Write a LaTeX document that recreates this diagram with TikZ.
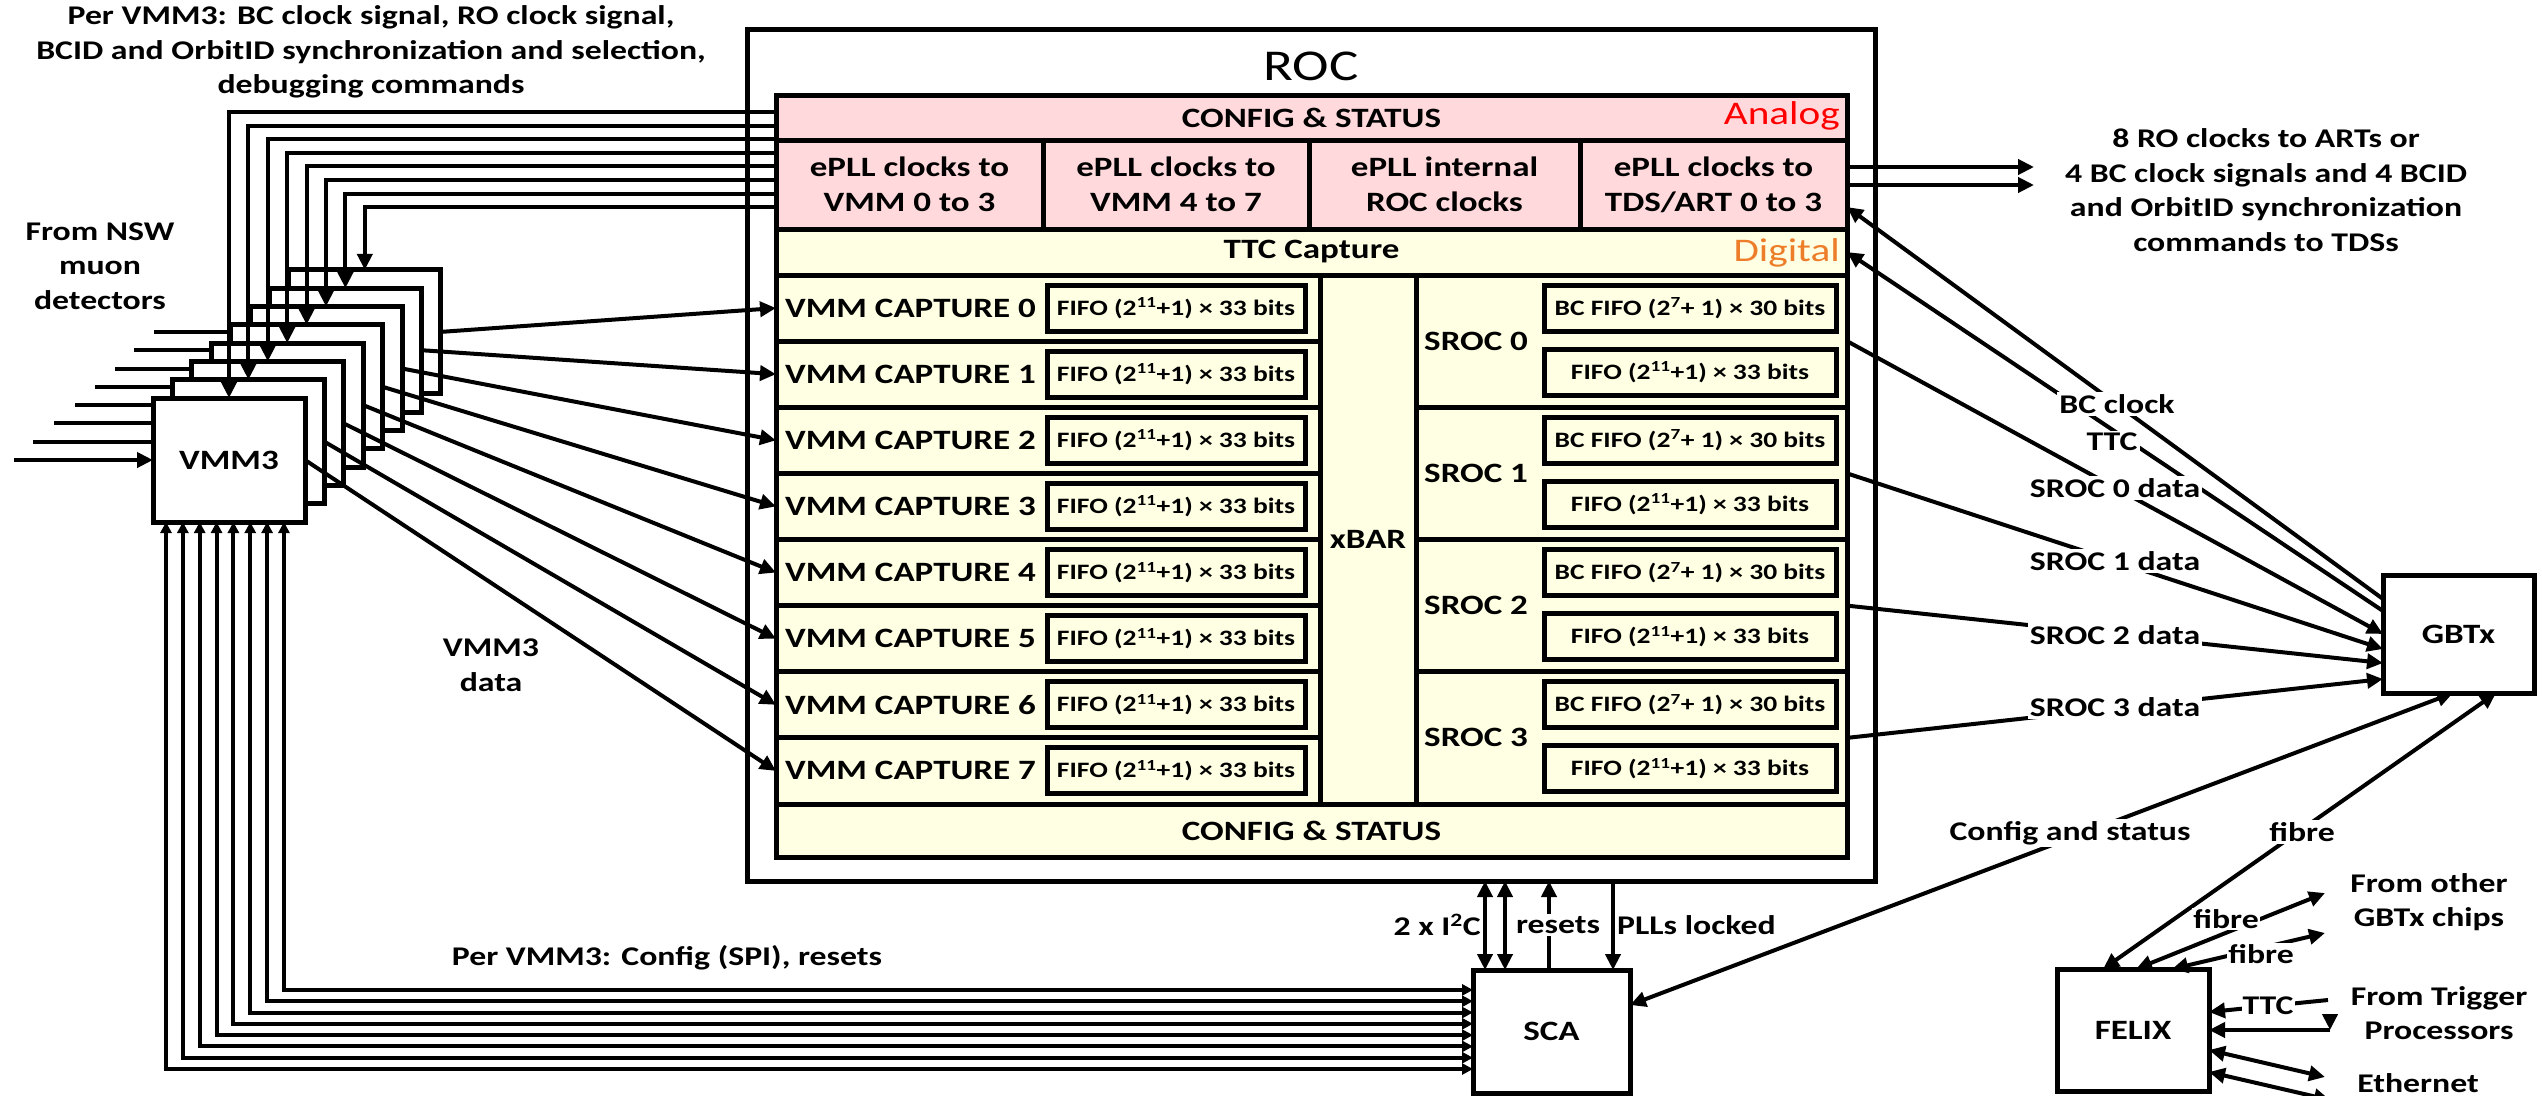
\documentclass[tikz,border=0pt]{standalone}
\usepackage{fontspec}
\setmainfont{Carlito}[FakeStretch=1.25]
\usetikzlibrary{arrows.meta,calc}
\pgfdeclarelayer{bg}
\pgfsetlayers{bg,main}
\definecolor{pinkc}{RGB}{255,217,220}
\definecolor{yelc}{RGB}{255,255,228}
\definecolor{anared}{RGB}{255,0,0}
\definecolor{digor}{RGB}{237,125,40}
\newcommand\fsOut{\fontsize{27}{34.5}\selectfont\bfseries}
\newcommand\fsIn{\fontsize{28}{35}\selectfont\bfseries}
\newcommand\fsFifo{\fontsize{22}{26}\selectfont\bfseries}
\newcommand\fsRoc{\fontsize{44}{50}\selectfont}
\newcommand\fsTag{\fontsize{33}{38}\selectfont}
\tikzset{
  Tb/.tip={Triangle[length=16pt,width=15pt]},
  Ts/.tip={Triangle[length=11pt,width=11pt]},
  blk/.style={draw,line width=5pt,anchor=north west,inner sep=0pt,outer sep=0pt},
  ln/.style={line width=4pt},
  arr/.style={ln,-Tb},
  arrb/.style={ln,Tb-Tb},
  lab/.style={fill=white,inner sep=2pt,font=\fsOut},
  otxt/.style={inner sep=0pt,font=\fsOut,align=center},
  itxt/.style={inner sep=0pt,font=\fsIn,align=center},
  ftxt/.style={inner sep=0pt,font=\fsFifo}
}
\begin{document}
\begin{tikzpicture}[x=1pt,y=-1pt]
\useasboundingbox (0,0) rectangle (2542,1095);

% ---------- ROC ----------
\node[blk,minimum width=1128pt,minimum height=852pt] (roc) at (747,29) {};
\node[font=\fsRoc,inner sep=0pt] (roct) at (1311,66) {ROC};
\node[blk,fill=pinkc,minimum width=1071pt,minimum height=45pt] (cfgA) at (776,95) {};
\node[itxt] (cfgAt) at (cfgA) {CONFIG \& STATUS};
\node[font=\fsTag,text=anared,anchor=east,inner sep=0pt] (analog) at (1840,116) {Analog};
\foreach \n/\x/\w/\t in {0/776/267/{ePLL clocks to\\VMM 0 to 3},1/1043/266/{ePLL clocks to\\VMM 4 to 7},2/1309/271/{ePLL internal\\ROC clocks},3/1580/267/{ePLL clocks to\\TDS/ART 0 to 3}}{
  \node[blk,fill=pinkc,minimum width=\w pt,minimum height=89pt] (epll\n) at (\x,140) {};
  \node[itxt] (epllt\n) at (epll\n) {\t};
}
\node[blk,fill=yelc,minimum width=1071pt,minimum height=46pt] (ttc) at (776,229) {};
\node[itxt] (ttct) at (ttc) {TTC Capture};
\node[font=\fsTag,text=digor,anchor=east,inner sep=0pt] (digital) at (1840,253) {Digital};

\foreach \r in {0,...,7}{
  \pgfmathsetmacro\yy{275+66.125*\r}
  \node[blk,fill=yelc,minimum width=544pt,minimum height=66.125pt] (cap\r) at (776,\yy) {};
  \node[itxt,anchor=west] (capt\r) at (785,\yy+33) {VMM CAPTURE \r};
  \node[blk,minimum width=258pt,minimum height=46pt] (capf\r) at (1047,\yy+10) {};
  \node[ftxt] (capft\r) at (capf\r) {FIFO (2\textsuperscript{11}+1) × 33 bits};
}
\node[blk,fill=yelc,minimum width=96pt,minimum height=529pt] (xbar) at (1320,275) {};
\node[itxt] (xbart) at (xbar) {xBAR};
\foreach \j in {0,...,3}{
  \pgfmathsetmacro\yy{275+132.25*\j}
  \node[blk,fill=yelc,minimum width=431pt,minimum height=132.25pt] (sroc\j) at (1416,\yy) {};
  \node[itxt,anchor=west] (sroct\j) at (1424,\yy+66) {SROC \j};
  \node[blk,minimum width=292pt,minimum height=46pt] (bcf\j) at (1544,\yy+10) {};
  \node[ftxt] (bcft\j) at (bcf\j) {BC FIFO (2\textsuperscript{7}+ 1) × 30 bits};
  \node[blk,minimum width=292pt,minimum height=46pt] (srf\j) at (1544,\yy+74) {};
  \node[ftxt] (srft\j) at (srf\j) {FIFO (2\textsuperscript{11}+1) × 33 bits};
}
\node[blk,fill=yelc,minimum width=1071pt,minimum height=53pt] (cfgB) at (776,804) {};
\node[itxt] (cfgBt) at (cfgB) {CONFIG \& STATUS};

% ---------- VMM3 stack ----------
\foreach \k in {7,6,...,0}{
  \pgfmathsetmacro\xx{153+19.4*\k}
  \pgfmathsetmacro\yy{398-18.3*\k}
  \node[blk,fill=white,minimum width=152pt,minimum height=124pt] (vmm\k) at (\xx,\yy) {};
}
\node[itxt] (vmmt) at (vmm0) {VMM3};
\begin{pgfonlayer}{bg}
\foreach \i/\xs in {0/154,1/134,2/115,3/95,4/75,5/54,6/33}{
  \pgfmathtruncatemacro\b{7-\i}
  \draw[ln] (vmm\b.west -| \xs,0) -- (vmm\b.west);
}
\end{pgfonlayer}
\draw[arr] (vmm0.west -| 14,0) -- (vmm0.west);

% clocks/commands from ROC to VMM3s
\foreach \k in {0,...,7}{
  \pgfmathsetmacro\yy{112+13.6*\k}
  \draw[arr] (cfgA.west |- 0,\yy) -| (vmm\k.north);
}
% VMM3 data
\foreach \k in {0,...,7}{
  \pgfmathtruncatemacro\c{7-\k}
  \draw[arr] (vmm\k.east) -- (cap\c.west);
}

% ---------- SCA ----------
\node[blk,minimum width=157pt,minimum height=123pt] (sca) at (1473,970) {};
\node[itxt] (scat) at (sca) {SCA};
\foreach \j in {0,...,7}{
  \pgfmathsetmacro\xx{166+16.85*\j}
  \pgfmathsetmacro\yy{1069-11.3*\j}
  \draw[ln,Ts-Ts] (vmm0.south -| \xx,0) -- (\xx,\yy) -- (sca.west |- 0,\yy);
}
\draw[arrb] (sca.north -| 1485,0) -- (roc.south -| 1485,0);
\draw[arrb] (sca.north -| 1505,0) -- (roc.south -| 1505,0);
\draw[arr] (sca.north -| 1549,0) -- (roc.south -| 1549,0);
\draw[arr] (roc.south -| 1613,0) -- (sca.north -| 1613,0);
\node[otxt,anchor=east] (ti2c) at (1481,925) {2 x I\textsuperscript{2}C};
\node[lab] (tres) at (1558,925) {resets};
\node[otxt,anchor=west] (tpll) at (1617,925) {PLLs locked};

% ---------- GBTx ----------
\node[blk,minimum width=151pt,minimum height=118pt] (gbtx) at (2383,575) {};
\node[itxt] (gbtxt) at (gbtx) {GBTx};
\draw[arr] ($(gbtx.north west)+(0,24)$) -- ($(epll3.south east)+(0,-22)$);
\draw[arr] ($(gbtx.north west)+(0,36)$) -- (ttc.east);
\node[lab] (tbc) at (2117,404) {BC clock};
\node[lab] (tttc) at (2112,442) {TTC};
\foreach \j/\dy/\ly in {0/59/488,1/74/561,2/88/635,3/104/707}{
  \draw[arr] (sroc\j.east) -- ($(gbtx.north west)+(0,\dy)$);
  \node[lab] (tsd\j) at (2115,\ly) {SROC \j\ data};
}

% TDS / ART outputs
\coordinate (o1) at (2034,167);
\coordinate (o2) at (2034,185);
\draw[arr] (epll3.east |- o1) -- (o1);
\draw[arr] (epll3.east |- o2) -- (o2);
\node[otxt] (tro) at (2266,190) {8 RO clocks to ARTs or\\4 BC clock signals and 4 BCID\\and OrbitID synchronization\\commands to TDSs};

% ---------- FELIX ----------
\node[blk,minimum width=152pt,minimum height=122pt] (felix) at (2057,969) {};
\node[itxt] (felixt) at (felix) {FELIX};
\draw[arrb] (sca.east |- 0,1005) -- ($(gbtx.south west)+(70,0)$);
\node[lab] (tcfg) at (2070,833) {Config and status};
\draw[arrb] ($(gbtx.south west)+(113,0)$) -- ($(felix.north west)+(46,0)$);
\node[lab] (tfib) at (2302,832) {fibre};
\coordinate (og1) at (2325,893);
\coordinate (og2) at (2325,933);
\draw[arrb] ($(felix.north west)+(79,0)$) -- (og1);
\node[lab,inner sep=1pt] (tfib1) at (2226,919) {fibre};
\draw[arrb] ($(felix.north west)+(115,0)$) -- (og2);
\node[lab,inner sep=1pt] (tfib2) at (2261,954) {fibre};
\coordinate (tr1) at (2328,1000);
\draw[arr] (tr1) -- (felix.east |- 0,1012);
\node[lab,inner sep=1pt] (tttc2) at (2268,1006) {TTC};
\coordinate (tr2) at (2330,1030);
\draw[arr] (tr2) -- (felix.east |- tr2);
\draw[arr] ($(tr2)+(0,-14)$) -- (tr2);
\coordinate (et1) at (2325,1077);
\coordinate (et2) at (2330,1100);
\draw[arrb] (felix.east |- 0,1050) -- (et1);
\draw[arrb] (felix.east |- 0,1072) -- (et2);
\node[otxt] (tog) at (2429,902) {From other\\GBTx chips};
\node[otxt] (ttp) at (2439,1013) {From Trigger\\Processors};
\node[otxt] (teth) at (2418,1083) {Ethernet};

% ---------- other labels ----------
\node[otxt] (tper) at (371,52) {Per VMM3: BC clock signal, RO clock signal,\\BCID and OrbitID synchronization and selection,\\debugging commands};
\node[otxt] (tnsw) at (100,266) {From NSW\\muon\\detectors};
\node[otxt] (tdata) at (491,665) {VMM3\\data};
\node[otxt] (tspi) at (667,958) {Per VMM3: Config (SPI), resets};
\end{tikzpicture}
\end{document}
